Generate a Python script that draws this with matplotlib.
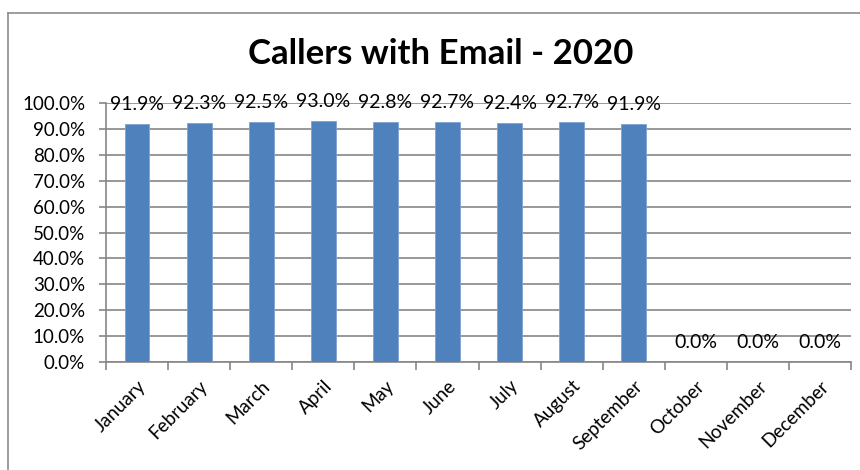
import matplotlib.pyplot as plt
from matplotlib.lines import Line2D

months = ['January', 'February', 'March', 'April', 'May', 'June', 'July',
          'August', 'September', 'October', 'November', 'December']
pct = [91.9, 92.3, 92.5, 93.0, 92.8, 92.7, 92.4, 92.7, 91.9, 0.0, 0.0, 0.0]
yticks = [0, 10, 20, 30, 40, 50, 60, 70, 80, 90, 100]

plt.rcParams['font.family'] = ['Lato', 'DejaVu Sans']

fig = plt.figure(figsize=(8.6, 4.7), dpi=100)
ax = fig.add_axes([106/860, 1-362/470, (851-106)/860, (362-103)/470])

grey = '#868686'
x = list(range(len(months)))
ax.bar(x, pct, width=0.4, color='#4F81BD', edgecolor='#7FA2D2', linewidth=0.6, zorder=3)
for xi, v in zip(x, pct):
    ax.annotate(f'{v:.1f}%', (xi, v), xytext=(0, 14), textcoords='offset points',
                ha='center', va='center', fontsize=14, color='black', zorder=4)

ax.set_xlim(-0.5, 11.5)
ax.set_ylim(0, 100)
ax.set_yticks(yticks)
ax.set_yticklabels([f'{t:.1f}%' for t in yticks], fontsize=13.5)
ax.yaxis.grid(True, color=grey, linewidth=1.2, zorder=0)
ax.tick_params(axis='y', length=5, color=grey, width=1.2, pad=10)

# category ticks at boundaries, labels at centres
ax.set_xticks([i - 0.5 for i in range(13)])
ax.set_xticklabels([])
ax.set_xticks(x, minor=True)
ax.set_xticklabels(months, minor=True, rotation=45, ha='right', va='top',
                   rotation_mode='anchor', fontsize=13.5)
ax.tick_params(axis='x', which='major', direction='out', length=6, color=grey, width=1.2)
ax.tick_params(axis='x', which='minor', length=0, pad=11)

for s in ['top', 'right']:
    ax.spines[s].set_visible(False)
for s in ['left', 'bottom']:
    ax.spines[s].set_color(grey)
    ax.spines[s].set_linewidth(1.2)

fig.text(441/860, 1-54/470, 'Callers with Email - 2020', ha='center', va='center',
         fontsize=25, fontweight='bold')

# outer chart border (top and left visible)
fig.add_artist(Line2D([8/860, 1], [1-13/470, 1-13/470], color='#8c8c8c', linewidth=1.2))
fig.add_artist(Line2D([8/860, 8/860], [0, 1-13/470], color='#8c8c8c', linewidth=1.2))

fig.savefig('out.png', dpi=100)
